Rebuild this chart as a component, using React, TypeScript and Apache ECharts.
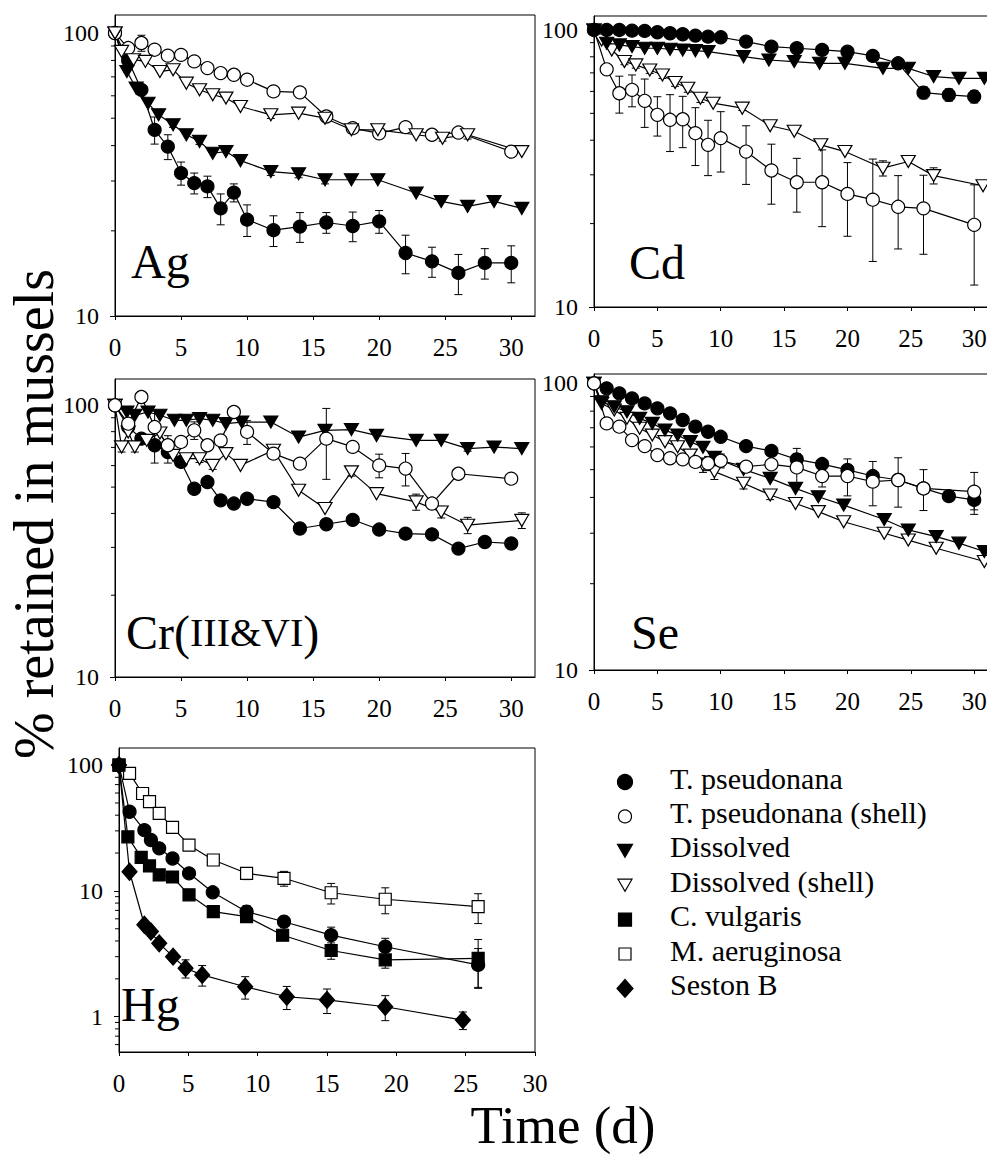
import React, { useEffect, useRef } from "react";
import * as echarts from "echarts";

const FONT = "'Liberation Serif', 'Times New Roman', serif";

// ---------------- Ag ----------------
const agTpDays = [0, 1, 2, 3, 4, 5, 6, 7, 8, 9, 10, 12, 14, 16, 18, 20, 22, 24, 26, 28, 30];
const agTpVals = [100, 80, 63, 45.5, 39.7, 32, 29.5, 28.7, 24, 27.3, 21.9, 20.1, 20.7, 21.4, 20.8, 21.6, 16.7, 15.6, 14.2, 15.4, 15.4];
const agTpErr = [0, 0, 0, 5, 4, 3, 2.5, 2.5, 3, 2, 2.8, 2.5, 2.5, 1.8, 2.5, 2, 2.6, 1.9, 2.3, 1.9, 2.3];
const agShellDays = [0, 1, 2, 3, 4, 5, 6, 7, 8, 9, 10, 12, 14, 16, 18, 20, 22, 24, 26, 30];
const agShellVals = [100, 88.5, 92.2, 87.3, 83.2, 83.7, 79.4, 75.2, 72.2, 71.2, 68.4, 62.2, 61.7, 50.7, 46.1, 44.2, 46.5, 43.7, 44.5, 38.1];
const agShellErr = [0, 0, 6, 0, 0, 0, 0, 0, 0, 0, 0, 0, 0, 2, 0, 0, 0, 0, 0, 0];
const agDissDays = [0, 0.9, 1.6, 2.5, 3.3, 4.4, 5.4, 6.4, 7.4, 8.4, 9.5, 11.8, 13.9, 15.9, 17.9, 19.9, 22.8, 24.7, 26.7, 28.7, 30.8];
const agDissVals = [100, 73.1, 63.9, 56.5, 51.4, 47.4, 43.7, 41.4, 37.6, 38.1, 35.4, 32.4, 31.8, 30.3, 30.3, 30.3, 27.2, 25.4, 24.4, 25.4, 24.0];
const agDissErr = [0, 0, 0, 0, 0, 1, 0, 1, 0, 0, 0, 1, 1, 1, 0, 0, 0, 0, 0, 0, 0];
const agDissShellDays = [0, 0.5, 1.4, 2.3, 3.4, 4.4, 5.4, 6.4, 7.4, 8.4, 9.5, 11.8, 13.9, 15.9, 17.9, 19.9, 22.8, 24.8, 26.7, 30.8];
const agDissShellVals = [100, 86.1, 80.5, 79.4, 73.1, 74.2, 66.5, 63.0, 60.5, 58.9, 55.0, 51.4, 52.1, 50.0, 45.5, 45.5, 43.7, 42.5, 43.7, 38.1];
const agDissShellErr = [0, 0, 0, 0, 0, 0, 0, 0, 0, 0, 0, 1.5, 0, 0, 0, 0, 0, 1, 1.5, 0];

// ---------------- Cd ----------------
const cdTpDays = [0, 1, 2, 3, 4, 5, 6, 7, 8, 9, 10, 12, 14, 16, 18, 20, 22, 24, 26, 28, 30];
const cdTpVals = [100, 100, 100, 99.4, 99.2, 98.1, 97.3, 96.5, 95.4, 94.6, 94.1, 90.8, 87.0, 85.9, 84.7, 83.5, 80.6, 75.8, 59.4, 58.3, 57.5];
const cdTpErr = [0, 0, 0, 0, 0, 0, 0, 0, 0, 0, 0, 0, 0, 0, 0, 0, 0, 0, 3, 3, 3];
const cdShellDays = [0, 1, 2, 3, 4, 5, 6, 7, 8, 9, 10, 12, 14, 16, 18, 20, 22, 24, 26, 30];
const cdShellVals = [100, 72.1, 59.1, 60.8, 55.5, 49.4, 47.4, 47.6, 42.4, 38.5, 40.7, 36.4, 31.1, 28.2, 28.2, 25.6, 24.4, 23.0, 22.7, 19.8];
const cdShellErr = [0, 0, 9, 8, 11, 8, 11, 10, 10, 8.7, 10, 8.7, 7.6, 6.2, 8.7, 7.6, 9.8, 6.8, 7.2, 7.8];
const cdDissDays = [0, 1, 2, 3, 4, 5, 6, 7, 8, 9, 11.8, 13.8, 15.8, 17.8, 19.8, 22.8, 24.8, 26.8, 28.8, 30.8];
const cdDissVals = [100, 89.5, 88.3, 87.1, 85.9, 85.9, 85.2, 84.7, 84.2, 83.5, 80.1, 77.9, 76.9, 75.8, 75.8, 72.7, 72.7, 67.9, 66.9, 66.9];
const cdDissErr = [0, 0, 0, 0, 0, 0, 0, 0, 0, 0, 0, 0, 0, 0, 0, 0, 0, 0, 0, 0];
const cdDissShellDays = [0, 0.6, 1.4, 2.4, 3.3, 4.4, 5.4, 6.4, 7.4, 8.4, 9.4, 11.7, 13.9, 15.8, 17.9, 19.8, 22.8, 24.8, 26.8, 30.7];
const cdDissShellVals = [100, 92.0, 84.7, 76.9, 74.8, 71.7, 68.8, 64.6, 61.6, 56.7, 54.4, 52.2, 45.1, 43.1, 38.5, 36.4, 31.7, 33.5, 29.8, 27.4];
const cdDissShellErr = [0, 0, 0, 2, 2, 2, 2, 2, 2, 2, 0, 1, 0, 0, 0, 0, 2, 0, 2, 0];

// ---------------- Cr(III&VI) ----------------
const crTpDays = [0, 1, 2, 3, 4, 5, 6, 7, 8, 9, 10, 12, 14, 16, 18, 20, 22, 24, 26, 28, 30];
const crTpVals = [100, 83.2, 75.4, 71.3, 67.3, 61.9, 49.3, 52.2, 44.7, 43.5, 45.3, 44.0, 35.2, 36.5, 37.9, 34.9, 33.7, 33.5, 29.7, 31.4, 31.0];
const crTpErr = [0, 0, 0, 10, 6, 0, 0, 0, 0, 0, 0, 0, 0, 0, 0, 0, 0, 0, 0, 0, 0];
const crShellDays = [0, 1, 2, 3, 4, 5, 6, 7, 8, 9, 10, 12, 14, 16, 18, 20, 22, 24, 26, 30];
const crShellVals = [100, 85.6, 107.3, 83.2, 71.3, 73.3, 80.9, 71.3, 74.3, 94.5, 79.8, 66.4, 61.0, 75.4, 70.3, 60.1, 58.5, 43.5, 56.0, 53.7];
const crShellErr = [0, 0, 5, 12, 6, 3, 6, 0, 0, 0, 8, 0, 0, 22, 0, 6, 8, 0, 0, 2];
const crDissDays = [0, 0.9, 1.5, 2.5, 3.4, 4.5, 5.4, 6.4, 7.4, 8.4, 9.6, 11.8, 13.9, 15.9, 17.9, 19.8, 22.8, 24.7, 26.7, 28.7, 30.8];
const crDissVals = [100, 94.5, 91.9, 94.5, 91.9, 88.1, 88.1, 89.3, 88.1, 85.6, 86.8, 86.8, 76.4, 80.9, 81.4, 77.5, 74.3, 74.3, 69.3, 70.2, 69.3];
const crDissErr = [0, 0, 0, 0, 0, 0, 0, 0, 0, 0, 0, 0, 0, 0, 0, 0, 0, 0, 1.5, 0, 0];
const crDissShellDays = [0, 0.5, 1, 1.5, 2.4, 3.4, 4.4, 5.4, 6.4, 7.4, 8.4, 9.5, 12, 13.9, 15.9, 17.9, 19.8, 22.8, 24.7, 26.7, 30.8];
const crDissShellVals = [100, 70.3, 79.8, 70.3, 74.3, 79.1, 65.4, 63.6, 63.6, 60.1, 66.4, 60.1, 68.3, 48.7, 41.7, 56.9, 47.3, 44.1, 40.5, 36.2, 37.7];
const crDissShellErr = [0, 3, 0, 3, 0, 0, 0, 0, 2, 2, 0, 0, 3, 0, 0, 2, 0, 3, 2, 2.5, 2.5];

// ---------------- Se ----------------
const seTpDays = [0, 1, 2, 3, 4, 5, 6, 7, 8, 9, 10, 12, 14, 16, 18, 20, 22, 24, 26, 28, 30];
const seTpVals = [100, 96.1, 92.3, 88.6, 85.1, 81.8, 78.6, 74.5, 70.6, 67.8, 65.1, 60.4, 58.1, 54.3, 52.3, 49.9, 47.5, 46.0, 43.0, 40.4, 39.2];
const seTpErr = [0, 0, 0, 0, 0, 0, 0, 0, 0, 0, 0, 0, 0, 5, 0, 0, 0, 0, 0, 0, 3];
const seShellDays = [0, 1, 2, 3, 4, 5, 6, 7, 8, 9, 10, 12, 14, 16, 18, 20, 22, 24, 26, 30];
const seShellVals = [100, 72.5, 70.6, 63.4, 60.4, 56.2, 54.8, 54.3, 53.2, 52.6, 53.7, 51.2, 52.2, 50.9, 47.5, 47.5, 45.4, 46.0, 43.0, 41.9];
const seShellErr = [0, 0, 0, 0, 0, 2, 2, 2, 2, 3, 3, 2, 2, 6, 4, 7, 8, 9, 7, 7];
const seDissDays = [0, 0.6, 1.6, 2.6, 3.6, 4.6, 5.6, 6.6, 7.6, 8.6, 9.5, 11.8, 13.9, 15.9, 17.7, 19.7, 22.9, 24.8, 27, 28.8, 30.8];
const seDissVals = [100, 86.3, 82.9, 79.6, 75.5, 72.5, 68.7, 66.0, 62.6, 59.8, 55.2, 50.1, 46.6, 43.0, 40.2, 37.6, 33.5, 30.8, 29.2, 27.7, 25.9];
const seDissErr = [0, 0, 0, 0, 0, 0, 0, 0, 0, 0, 0, 0, 0, 0, 0, 0, 0, 0, 0, 0, 0];
const seDissShellDays = [0, 0.6, 1.6, 2.6, 3.6, 4.6, 5.6, 6.6, 7.6, 8.6, 9.5, 11.8, 13.9, 15.9, 17.7, 19.7, 22.9, 24.8, 27, 30.8];
const seDissShellVals = [100, 85.1, 80.7, 75.5, 69.7, 66.0, 62.6, 60.1, 56.2, 51.9, 49.2, 44.8, 40.8, 38.1, 35.7, 32.9, 30.0, 28.4, 26.6, 23.9];
const seDissShellErr = [0, 0, 0, 0, 0, 0, 0, 0, 2.5, 3, 3, 2, 1.5, 0, 0, 0, 0, 0, 0, 0];

// ---------------- Hg ----------------
const hgTpDays = [0, 0.76, 1.83, 2.3, 2.9, 3.86, 5.05, 6.76, 9.2, 11.9, 15.3, 19.2, 25.9];
const hgTpVals = [100, 42.6, 30.4, 25.4, 21.8, 18.1, 13.8, 9.75, 6.84, 5.69, 4.45, 3.6, 2.58];
const hgTpErr = [0, 0, 0, 0, 0, 0, 0, 0, 0.8, 0.6, 0.7, 0.6, 0.9];
const hgCvDays = [0, 0.64, 1.6, 2.2, 2.9, 3.86, 5.05, 6.8, 9.2, 11.8, 15.3, 19.2, 25.9];
const hgCvVals = [100, 26.9, 18.5, 15.8, 13.4, 12.9, 9.31, 6.85, 6.24, 4.44, 3.36, 2.83, 2.91];
const hgCvErr = [0, 0, 0, 0, 0, 0, 0, 0, 0.5, 0.4, 0.5, 0.4, 1.2];
const hgMaDays = [0, 0.76, 1.7, 2.2, 2.9, 3.86, 5.05, 6.8, 9.2, 11.9, 15.3, 19.2, 25.9];
const hgMaVals = [100, 85.9, 59.5, 51.2, 41.3, 32.0, 23.1, 17.6, 13.8, 12.6, 9.67, 8.58, 7.5];
const hgMaErr = [0, 0, 0, 0, 0, 0, 0, 0, 1.5, 1.7, 1.8, 2, 2];
const hgSestonDays = [0, 0.76, 1.83, 2.3, 2.9, 3.9, 4.8, 6.0, 9.1, 12.1, 15.0, 19.2, 24.8];
const hgSestonVals = [100, 14.2, 5.38, 4.75, 3.83, 3.0, 2.43, 2.15, 1.73, 1.44, 1.36, 1.2, 0.94];
const hgSestonErr = [0, 0, 0, 0, 0, 0, 0.4, 0.4, 0.35, 0.3, 0.3, 0.27, 0.15];

// ---------------- axes / labels ----------------
const xTicks = [0, 5, 10, 15, 20, 25, 30];
const yMinorTop = [20, 30, 40, 50, 60, 70, 80, 90];
const yMinorHg = [0.6, 0.7, 0.8, 0.9, 2, 3, 4, 5, 6, 7, 8, 9, 20, 30, 40, 50, 60, 70, 80, 90];
const panelNames = ["Ag", "Cd", "Cr(III&VI)", "Se", "Hg"];
const legendNames = [
  "T. pseudonana",
  "T. pseudonana (shell)",
  "Dissolved",
  "Dissolved (shell)",
  "C. vulgaris",
  "M. aeruginosa",
  "Seston B",
];

const SYM: Record<string, any> = {
  tp: { symbol: "circle", size: 13, fill: "#000" },
  tpShell: { symbol: "circle", size: 13, fill: "#fff" },
  diss: { symbol: "triangle", size: [14, 12], rotate: 180, fill: "#000" },
  dissShell: { symbol: "triangle", size: [14, 12], rotate: 180, fill: "#fff" },
  cv: { symbol: "rect", size: 12, fill: "#000" },
  ma: { symbol: "rect", size: 12, fill: "#fff" },
  seston: { symbol: "diamond", size: [15, 17], fill: "#000" },
};

function lineSeries(name: string, idx: number, xs: number[], ys: number[], key: string) {
  const s = SYM[key];
  return {
    type: "line",
    name,
    xAxisIndex: idx,
    yAxisIndex: idx,
    data: xs.map((x, i) => [x, ys[i]]),
    symbol: s.symbol,
    symbolSize: s.size,
    symbolRotate: s.rotate || 0,
    showSymbol: true,
    showAllSymbol: true,
    clip: false,
    silent: true,
    z: 3,
    lineStyle: { color: "#000", width: 1.2 },
    itemStyle: { color: s.fill, borderColor: "#000", borderWidth: 1.2, opacity: 1 },
  };
}

function errSeries(idx: number, xs: number[], ys: number[], es: number[]) {
  const data = xs.map((x, i) => [x, ys[i], es[i]]).filter((d) => d[2] > 0);
  return {
    type: "custom",
    xAxisIndex: idx,
    yAxisIndex: idx,
    silent: true,
    clip: false,
    z: 2,
    data,
    encode: { x: 0, y: 1 },
    renderItem: (_p: any, api: any) => {
      const x = api.value(0);
      const y = api.value(1);
      const e = api.value(2);
      const top = api.coord([x, y + e]);
      const bot = api.coord([x, Math.max(y - e, y * 0.2)]);
      const w = 4;
      const st = { stroke: "#000", lineWidth: 1 };
      return {
        type: "group",
        children: [
          { type: "line", shape: { x1: top[0], y1: top[1], x2: bot[0], y2: bot[1] }, style: st },
          { type: "line", shape: { x1: top[0] - w, y1: top[1], x2: top[0] + w, y2: top[1] }, style: st },
          { type: "line", shape: { x1: bot[0] - w, y1: bot[1], x2: bot[0] + w, y2: bot[1] }, style: st },
        ],
      };
    },
  };
}

function minorTickSeries(idx: number, vals: number[]) {
  return {
    type: "custom",
    xAxisIndex: idx,
    yAxisIndex: idx,
    silent: true,
    clip: false,
    z: 4,
    data: vals.map((v) => [0, v]),
    encode: { x: 0, y: 1 },
    renderItem: (_p: any, api: any) => {
      const p = api.coord([api.value(0), api.value(1)]);
      return {
        type: "line",
        shape: { x1: p[0] - 4, y1: p[1], x2: p[0], y2: p[1] },
        style: { stroke: "#000", lineWidth: 1 },
      };
    },
  };
}

const grids = [
  { left: 115, top: 15, width: 420, height: 301 },
  { left: 594, top: 16, width: 403, height: 291 },
  { left: 115, top: 379, width: 420, height: 298 },
  { left: 594, top: 374, width: 403, height: 296 },
  { left: 119, top: 748, width: 416, height: 304 },
];
const yRanges = [
  [10, 115.8],
  [10, 112.3],
  [10, 125],
  [10, 107.8],
  [0.524, 136.8],
];
const xMaxes = [31.8, 31.8, 31.8, 31.8, 30];

export default function App() {
  const ref = useRef<HTMLDivElement>(null);

  useEffect(() => {
    if (!ref.current) return;
    const chart = echarts.init(ref.current, null, { renderer: "svg" });

    const xAxis = grids.map((_, i) => ({
      type: "value",
      gridIndex: i,
      min: xTicks[0],
      max: xMaxes[i],
      interval: 5,
      axisLine: { show: true, onZero: false, lineStyle: { color: "#000", width: 1 } },
      axisTick: { show: true, inside: false, length: 4, lineStyle: { color: "#000" } },
      axisLabel: {
        show: true,
        margin: 19,
        fontSize: 25,
        fontFamily: FONT,
        color: "#000",
        showMaxLabel: xMaxes[i] === 30,
        formatter: (v: number) => String(v),
      },
      splitLine: { show: false },
    }));

    const yAxis = grids.map((_, i) => ({
      type: "log",
      logBase: 10,
      gridIndex: i,
      min: yRanges[i][0],
      max: yRanges[i][1],
      axisLine: { show: true, onZero: false, lineStyle: { color: "#000", width: 1 } },
      axisTick: { show: true, inside: false, length: 5, lineStyle: { color: "#000" } },
      axisLabel: {
        show: true,
        margin: 16,
        fontSize: 24,
        fontFamily: FONT,
        color: "#000",
        showMaxLabel: false,
        showMinLabel: i !== 4,
        formatter: (v: number) => String(Math.round(v * 100) / 100),
      },
      splitLine: { show: false },
      minorTick: { show: false },
    }));

    const series: any[] = [
      // Ag
      errSeries(0, agTpDays, agTpVals, agTpErr),
      errSeries(0, agShellDays, agShellVals, agShellErr),
      errSeries(0, agDissDays, agDissVals, agDissErr),
      errSeries(0, agDissShellDays, agDissShellVals, agDissShellErr),
      lineSeries(legendNames[0], 0, agTpDays, agTpVals, "tp"),
      lineSeries(legendNames[1], 0, agShellDays, agShellVals, "tpShell"),
      lineSeries(legendNames[2], 0, agDissDays, agDissVals, "diss"),
      lineSeries(legendNames[3], 0, agDissShellDays, agDissShellVals, "dissShell"),
      minorTickSeries(0, yMinorTop),
      // Cd
      errSeries(1, cdTpDays, cdTpVals, cdTpErr),
      errSeries(1, cdShellDays, cdShellVals, cdShellErr),
      errSeries(1, cdDissDays, cdDissVals, cdDissErr),
      errSeries(1, cdDissShellDays, cdDissShellVals, cdDissShellErr),
      lineSeries(legendNames[1], 1, cdShellDays, cdShellVals, "tpShell"),
      lineSeries(legendNames[3], 1, cdDissShellDays, cdDissShellVals, "dissShell"),
      lineSeries(legendNames[2], 1, cdDissDays, cdDissVals, "diss"),
      lineSeries(legendNames[0], 1, cdTpDays, cdTpVals, "tp"),
      minorTickSeries(1, yMinorTop),
      // Cr
      errSeries(2, crTpDays, crTpVals, crTpErr),
      errSeries(2, crShellDays, crShellVals, crShellErr),
      errSeries(2, crDissDays, crDissVals, crDissErr),
      errSeries(2, crDissShellDays, crDissShellVals, crDissShellErr),
      lineSeries(legendNames[0], 2, crTpDays, crTpVals, "tp"),
      lineSeries(legendNames[2], 2, crDissDays, crDissVals, "diss"),
      lineSeries(legendNames[3], 2, crDissShellDays, crDissShellVals, "dissShell"),
      lineSeries(legendNames[1], 2, crShellDays, crShellVals, "tpShell"),
      minorTickSeries(2, yMinorTop),
      // Se
      errSeries(3, seTpDays, seTpVals, seTpErr),
      errSeries(3, seShellDays, seShellVals, seShellErr),
      errSeries(3, seDissDays, seDissVals, seDissErr),
      errSeries(3, seDissShellDays, seDissShellVals, seDissShellErr),
      lineSeries(legendNames[3], 3, seDissShellDays, seDissShellVals, "dissShell"),
      lineSeries(legendNames[2], 3, seDissDays, seDissVals, "diss"),
      lineSeries(legendNames[0], 3, seTpDays, seTpVals, "tp"),
      lineSeries(legendNames[1], 3, seShellDays, seShellVals, "tpShell"),
      minorTickSeries(3, yMinorTop),
      // Hg
      errSeries(4, hgTpDays, hgTpVals, hgTpErr),
      errSeries(4, hgCvDays, hgCvVals, hgCvErr),
      errSeries(4, hgMaDays, hgMaVals, hgMaErr),
      errSeries(4, hgSestonDays, hgSestonVals, hgSestonErr),
      lineSeries(legendNames[5], 4, hgMaDays, hgMaVals, "ma"),
      lineSeries(legendNames[4], 4, hgCvDays, hgCvVals, "cv"),
      lineSeries(legendNames[0], 4, hgTpDays, hgTpVals, "tp"),
      lineSeries(legendNames[6], 4, hgSestonDays, hgSestonVals, "seston"),
      minorTickSeries(4, yMinorHg),
    ];

    // legend keys (drawn as graphic shapes)
    const lx = 625;
    const rowY = (i: number) => 782 + 34.4 * i;
    const stroke = { stroke: "#000", lineWidth: 1.2 };
    const keyShapes: any[] = [
      { type: "circle", shape: { cx: lx, cy: rowY(0), r: 7.5 }, style: { fill: "#000", ...stroke } },
      { type: "circle", shape: { cx: lx, cy: rowY(1), r: 6.5 }, style: { fill: "#fff", ...stroke } },
      {
        type: "polygon",
        shape: { points: [[lx - 7.5, rowY(2) - 6.5], [lx + 7.5, rowY(2) - 6.5], [lx, rowY(2) + 6.5]] },
        style: { fill: "#000", ...stroke },
      },
      {
        type: "polygon",
        shape: { points: [[lx - 7, rowY(3) - 6], [lx + 7, rowY(3) - 6], [lx, rowY(3) + 6]] },
        style: { fill: "#fff", ...stroke },
      },
      { type: "rect", shape: { x: lx - 6.5, y: rowY(4) - 6.5, width: 13, height: 13 }, style: { fill: "#000", ...stroke } },
      { type: "rect", shape: { x: lx - 6, y: rowY(5) - 6, width: 12, height: 12 }, style: { fill: "#fff", ...stroke } },
      {
        type: "polygon",
        shape: { points: [[lx, rowY(6) - 9], [lx + 8, rowY(6)], [lx, rowY(6) + 9], [lx - 8, rowY(6)]] },
        style: { fill: "#000", ...stroke },
      },
    ];
    const keyTexts = legendNames.map((n, i) => ({
      type: "text",
      x: 670,
      y: rowY(i) - 4,
      style: { text: n, font: `30px ${FONT}`, fill: "#000", textAlign: "left", textVerticalAlign: "middle" },
    }));

    const panelLabelStyle = (t: string) => ({ text: t, font: `48px ${FONT}`, fill: "#000", textAlign: "left", textVerticalAlign: "middle" });

    const graphic: any[] = [
      ...keyShapes,
      ...keyTexts,
      { type: "text", x: 131, y: 261, style: panelLabelStyle(panelNames[0]) },
      { type: "text", x: 629, y: 262, style: panelLabelStyle(panelNames[1]) },
      {
        type: "text",
        x: 126,
        y: 632,
        style: {
          text: "{a|Cr(}{b|III&VI}{a|)}",
          textAlign: "left",
          textVerticalAlign: "middle",
          fill: "#000",
          rich: {
            a: { fontSize: 48, fontFamily: FONT, fill: "#000" },
            b: { fontSize: 40, fontFamily: FONT, fill: "#000" },
          },
        },
      },
      { type: "text", x: 631, y: 632, style: panelLabelStyle(panelNames[3]) },
      { type: "text", x: 121, y: 1004, style: panelLabelStyle(panelNames[4]) },
      {
        type: "text",
        x: 34,
        y: 514,
        rotation: Math.PI / 2,
        style: { text: "% retained in mussels", font: `56px ${FONT}`, fill: "#000", textAlign: "center", textVerticalAlign: "middle" },
      },
      {
        type: "text",
        x: 563,
        y: 1125,
        style: { text: "Time (d)", font: `53px ${FONT}`, fill: "#000", textAlign: "center", textVerticalAlign: "middle" },
      },
    ];

    chart.setOption({
      animation: false,
      backgroundColor: "#fff",
      textStyle: { fontFamily: FONT, color: "#000" },
      grid: grids.map((g) => ({ ...g, show: true, borderColor: "#000", borderWidth: 1, backgroundColor: "transparent", containLabel: false })),
      xAxis,
      yAxis,
      series,
      graphic,
    });

    return () => chart.dispose();
  }, []);

  return (
    <div style={{ position: "absolute", left: 0, top: 0, width: 987, height: 1156, overflow: "hidden", background: "#fff" }}>
      <div ref={ref} style={{ width: 1012, height: 1156 }} />
    </div>
  );
}
